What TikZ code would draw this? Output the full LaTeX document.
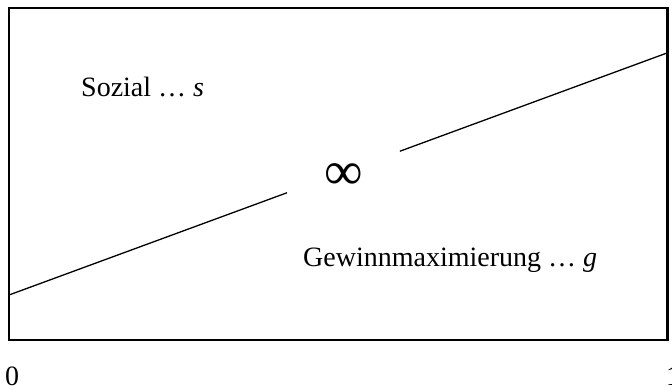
\documentclass[tikz,border=0pt]{standalone}
\usepackage{fontspec}
\setmainfont{Liberation Serif}
\usetikzlibrary{positioning, calc}
\definecolor{lnblack}{HTML}{000000}
\tikzset{
  lbl/.style={anchor=base west, inner sep=0pt, color=lnblack, font=\fontsize{28}{30}\selectfont},
}
\begin{document}
\begin{tikzpicture}[x=1pt, y=1pt]
    \useasboundingbox (0,0) rectangle (672,390);
    \draw[line width=2.2pt, color=lnblack] (9,50) rectangle (667.5,382);
    \coordinate (lstart) at (9,95);
    \coordinate (lend) at (667,337);
    \coordinate (gapa) at ($(lstart)!0.4225!(lend)$);
    \coordinate (gapb) at ($(lstart)!0.594!(lend)$);
    \draw[line width=1.3pt, color=lnblack] (lstart) -- (gapa);
    \draw[line width=1.3pt, color=lnblack] (gapb) -- (lend);
    \node[lbl] (sozial) at (81,293) {Sozial … \textit{s}};
    \node[lbl] (gewinn) at (303,123) {Gewinnmaximierung … \textit{g}};
    \node[inner sep=0pt, font=\fontsize{54}{54}\selectfont] (inf) at (344,213) {∞};
    \node[lbl] (null) at (5,4) {0};
    \node[lbl] (eins) at (666,4) {1};
  \end{tikzpicture}
\end{document}
